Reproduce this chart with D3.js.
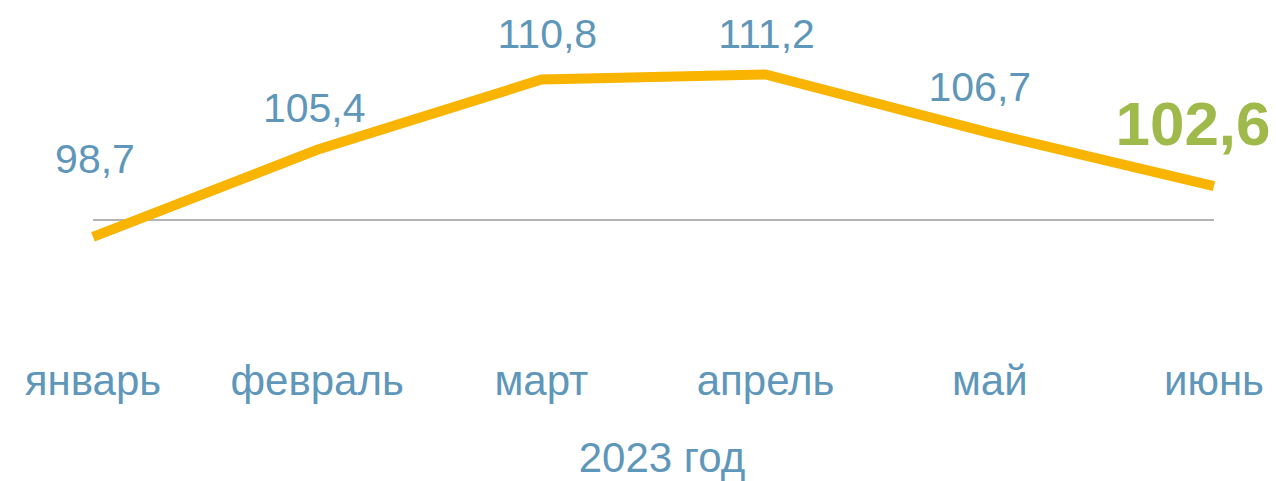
<!DOCTYPE html>
<html>
<head>
<meta charset="utf-8">
<script src="https://cdn.jsdelivr.net/npm/d3@7"></script>
<style>
  body { margin: 0; background: #fff; }
  text { font-family: 'Liberation Sans', Arial, sans-serif; }
</style>
</head>
<body>
<div id="app"></div>
<script>
'use strict'
const months = ['январь', 'февраль', 'март', 'апрель', 'май', 'июнь']
const values = [98.7, 105.4, 110.8, 111.2, 106.7, 102.6]
const valueLabels = ['98,7', '105,4', '110,8', '111,2', '106,7', '102,6']
const baseValue = 100
const axisTitle = '2023 год'

const width = 1276
const height = 481

const svg = d3.select('#app').append('svg')
  .attr('width', width)
  .attr('height', height)

const xScale = d3.scalePoint()
  .domain(months)
  .range([93, 1214])

// 100 sits at y=220, about 13px per unit
const yScale = d3.scaleLinear()
  .domain([100, 110])
  .range([220, 90])

// reference line at 100
svg.append('line')
  .attr('x1', xScale(months[0]))
  .attr('x2', xScale(months[months.length - 1]))
  .attr('y1', yScale(baseValue))
  .attr('y2', yScale(baseValue))
  .style('stroke', '#9a9a9a')
  .style('stroke-width', 1.5)

const line = d3.line()
  .x((d, i) => xScale(months[i]))
  .y(d => yScale(d))

svg.append('path')
  .datum(values)
  .attr('d', line)
  .style('fill', 'none')
  .style('stroke', '#f9b400')
  .style('stroke-width', 10)
  .style('stroke-linejoin', 'miter')

// value labels, nudged by hand like the original
const labelDy = [-64, -28, -32, -26, -32, -41]
const labelDx = [2, -3, 6, 1, -10, -21]
const last = values.length - 1

svg.selectAll('.val')
  .data(values)
  .enter()
  .append('text')
  .attr('class', 'val')
  .attr('x', (d, i) => xScale(months[i]) + labelDx[i])
  .attr('y', (d, i) => yScale(d) + labelDy[i])
  .attr('text-anchor', 'middle')
  .style('font-size', (d, i) => i === last ? '62px' : '41px')
  .style('font-weight', (d, i) => i === last ? 'bold' : 'normal')
  .style('fill', (d, i) => i === last ? '#9fb94a' : '#5f97ba')
  .text((d, i) => valueLabels[i])

// month labels
svg.selectAll('.month')
  .data(months)
  .enter()
  .append('text')
  .attr('class', 'month')
  .attr('x', d => xScale(d))
  .attr('y', 395)
  .attr('text-anchor', 'middle')
  .style('font-size', '42px')
  .style('fill', '#5f97ba')
  .text(d => d)

svg.append('text')
  .attr('x', 662)
  .attr('y', 472)
  .attr('text-anchor', 'middle')
  .style('font-size', '42px')
  .style('fill', '#5f97ba')
  .text(axisTitle)
</script>
</body>
</html>
